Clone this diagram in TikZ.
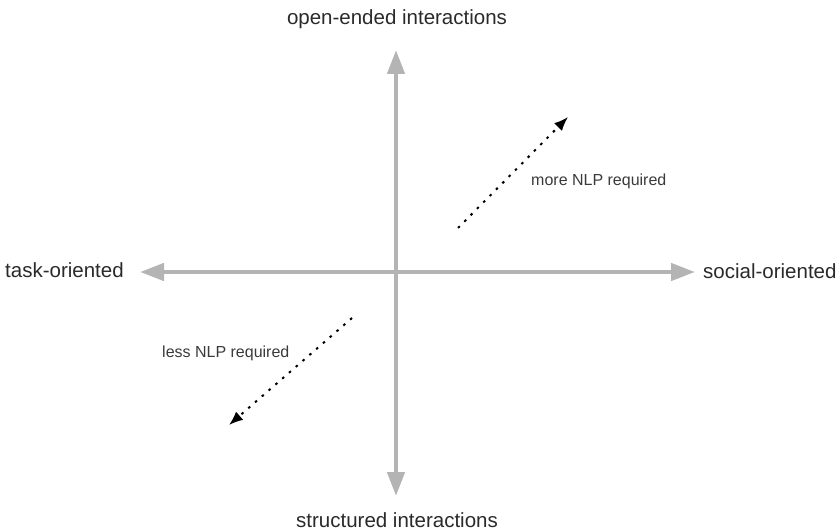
\documentclass[tikz,border=0pt]{standalone}
\usepackage{fontspec}
\setmainfont{Liberation Sans}
\usepackage{xcolor}
\usetikzlibrary{arrows.meta}
\definecolor{axisgray}{HTML}{B4B4B4}
\definecolor{labelgray}{HTML}{2A2A2A}
\definecolor{hintgray}{HTML}{3A3A3A}

\begin{document}
\begin{tikzpicture}[x=1pt, y=-1pt,
	axis/.style={draw=axisgray, line width=4.5pt, {Triangle[length=24pt,width=17pt]}-{Triangle[length=24pt,width=17pt]}},
	hint/.style={draw=black, line width=2pt, dash pattern=on 2.5pt off 6.5pt, -{Latex[length=14pt,width=11pt]}},
	big/.style={text=labelgray, font=\fontsize{20.5}{24}\selectfont, inner sep=0pt},
	small/.style={text=hintgray, font=\fontsize{16}{19}\selectfont, inner sep=0pt}]
	\useasboundingbox (0,0) rectangle (840,532);
	% axes
	\coordinate (top) at (396,50);
	\coordinate (bottom) at (396,496);
	\coordinate (left) at (140,272);
	\coordinate (right) at (695,272);
	\draw[axis] (left) -- (right);
	\draw[axis] (bottom) -- (top);
	\node[big, anchor=base] (open) at (397,25) {open-ended interactions};
	\node[big, anchor=base] (struct) at (397,527) {structured interactions};
	\node[big, anchor=base west] (task) at (5,277) {task-oriented};
	\node[big, anchor=base west] (social) at (703,278) {social-oriented};
	% NLP hints
	\coordinate (moreA) at (458,228);
	\coordinate (moreB) at (568,117);
	\coordinate (lessA) at (352,318);
	\coordinate (lessB) at (229,425);
	\draw[hint] (moreA) -- (moreB);
	\draw[hint] (lessA) -- (lessB);
	\node[small, anchor=base west] (more) at (531,185) {more NLP required};
	\node[small, anchor=base west] (less) at (162,357) {less NLP required};
\end{tikzpicture}
\end{document}
